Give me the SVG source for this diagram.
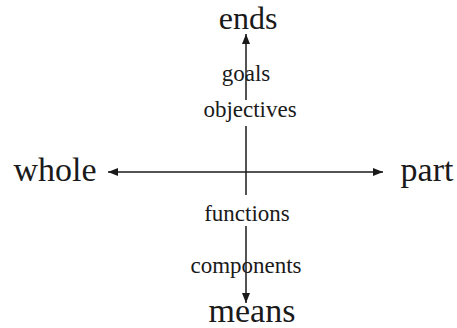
<svg xmlns="http://www.w3.org/2000/svg" width="457" height="328" viewBox="0 0 457 328">
  <style>
    .big { font-family: "Liberation Serif", "Times New Roman", serif; font-size: 34px; fill: #1a1a1a; text-anchor: middle; }
    .top { font-size: 32px; }
    .small { font-family: "Liberation Serif", "Times New Roman", serif; font-size: 23px; fill: #1a1a1a; text-anchor: middle; }
    .axis { stroke: #1a1a1a; stroke-width: 1.5; fill: none; }
  </style>
  <defs>
    <marker id="arrow" viewBox="0 0 10 8" refX="10" refY="4" markerWidth="10" markerHeight="8" markerUnits="userSpaceOnUse" orient="auto">
      <path d="M0,0 L10,4 L0,8 Z" fill="#1a1a1a"/>
    </marker>
  </defs>

  <!-- axis lines -->
  <g id="connectors">
    <line class="axis" x1="246" y1="100" x2="246" y2="34" marker-end="url(#arrow)"/>
    <line class="axis" x1="246" y1="126" x2="246" y2="195"/>
    <line class="axis" x1="246" y1="226" x2="246" y2="303" marker-end="url(#arrow)"/>
    <line class="axis" x1="246" y1="172" x2="108" y2="172" marker-end="url(#arrow)"/>
    <line class="axis" x1="246" y1="172" x2="383" y2="172" marker-end="url(#arrow)"/>
  </g>

  <g id="ends"><text class="big top" x="248" y="29">ends</text></g>
  <g id="means"><text class="big" x="252" y="322">means</text></g>
  <g id="whole"><text class="big" x="55" y="181">whole</text></g>
  <g id="part"><text class="big" x="427" y="181">part</text></g>
  <g id="goals"><text class="small" x="246" y="81">goals</text></g>
  <g id="objectives"><text class="small" x="250" y="117">objectives</text></g>
  <g id="functions"><text class="small" x="247" y="221">functions</text></g>
  <g id="components"><text class="small" x="246" y="273">components</text></g>
</svg>
